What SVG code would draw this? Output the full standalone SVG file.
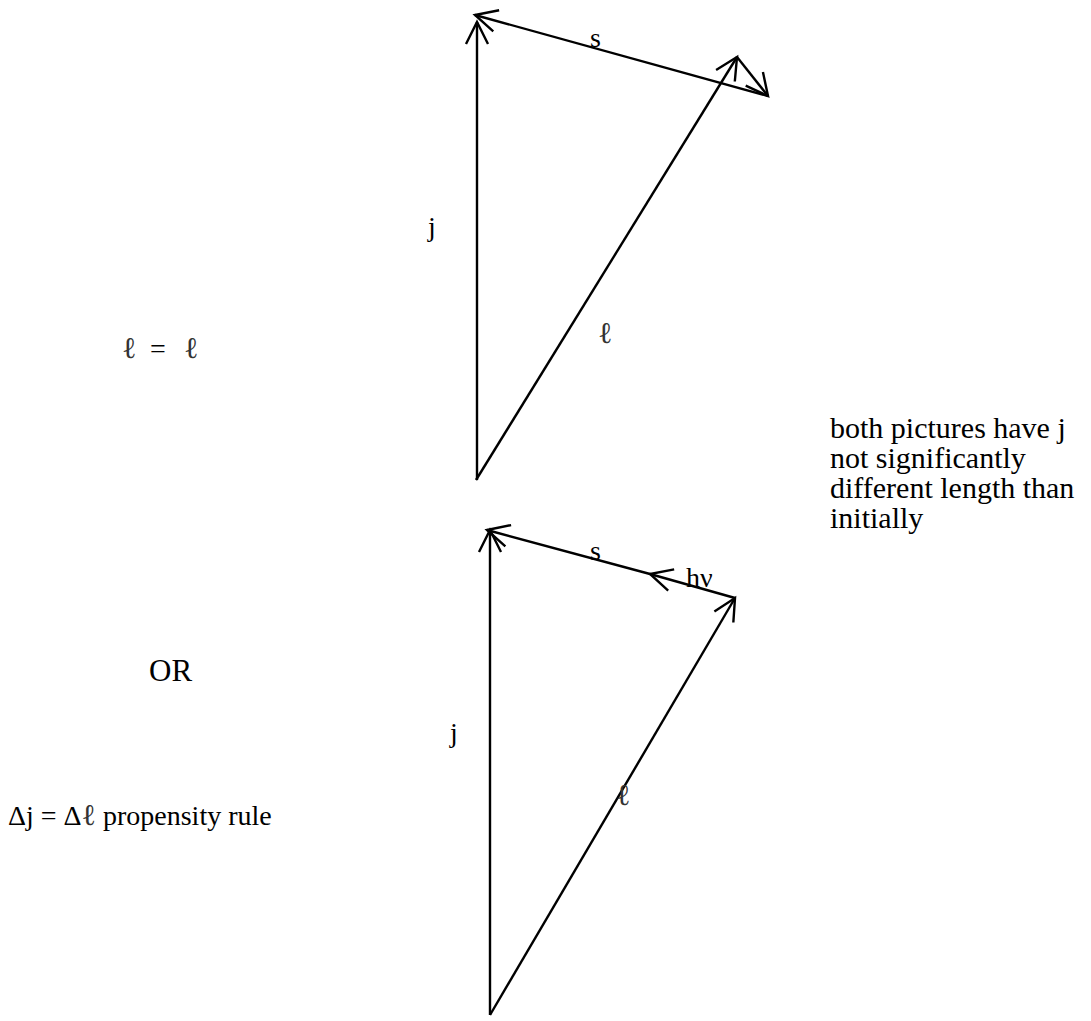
<svg xmlns="http://www.w3.org/2000/svg" width="1091" height="1021" viewBox="0 0 1091 1021">
<defs>
<style>
.ln{fill:none;stroke:#000;stroke-width:2.4;marker-end:url(#ah)}
text{font-family:"Liberation Serif","Times New Roman",serif;font-size:28px;fill:#000}
.ell{font-family:"DejaVu Serif","Liberation Serif",serif;font-style:normal;font-size:30px;fill:#333}
.big{font-size:30px}
</style>
<marker id="ah" markerUnits="userSpaceOnUse" markerWidth="30" markerHeight="30" viewBox="-26 -14 30 28" refX="0" refY="0" orient="auto">
<path d="M-22,-11 L0,0 L-22,11" fill="none" stroke="#000" stroke-width="2.4"/>
</marker>
</defs>
<rect width="1091" height="1021" fill="#fff"/>
<g id="connectors">
<path class="ln" d="M477,480 L477,22"/>
<path class="ln" d="M768,96 L475,15"/>
<path class="ln" d="M476,480 L737,57"/>
<path class="ln" d="M737,57 L768,96"/>
<path class="ln" d="M490,1015 L490,530"/>
<path class="ln" d="M735,598 L650,574"/>
<path class="ln" d="M650,574 L487,530"/>
<path class="ln" d="M490,1015 L735,598"/>
</g>
<g id="top-labels">
<text x="590" y="47">s</text>
<text x="428" y="236">j</text>
<text class="ell" x="598" y="343">ℓ</text>
</g>
<g id="bottom-labels">
<text x="590" y="560">s</text>
<text x="686" y="587">hν</text>
<text x="450" y="742">j</text>
<text class="ell" x="616" y="805">ℓ</text>
</g>
<g id="eq">
<text class="ell" x="122" y="358">ℓ</text>
<text x="150" y="358">=</text>
<text class="ell" x="184" y="358">ℓ</text>
</g>
<g id="or"><text style="font-size:31px" x="149" y="681">OR</text></g>
<g id="rule"><text x="8" y="825">Δj = Δ<tspan class="ell">ℓ</tspan> propensity rule</text></g>
<g id="note">
<text class="big" x="830" y="438">both pictures have j</text>
<text class="big" x="830" y="468">not significantly</text>
<text class="big" x="830" y="498">different length than</text>
<text class="big" x="830" y="528">initially</text>
</g>
</svg>
